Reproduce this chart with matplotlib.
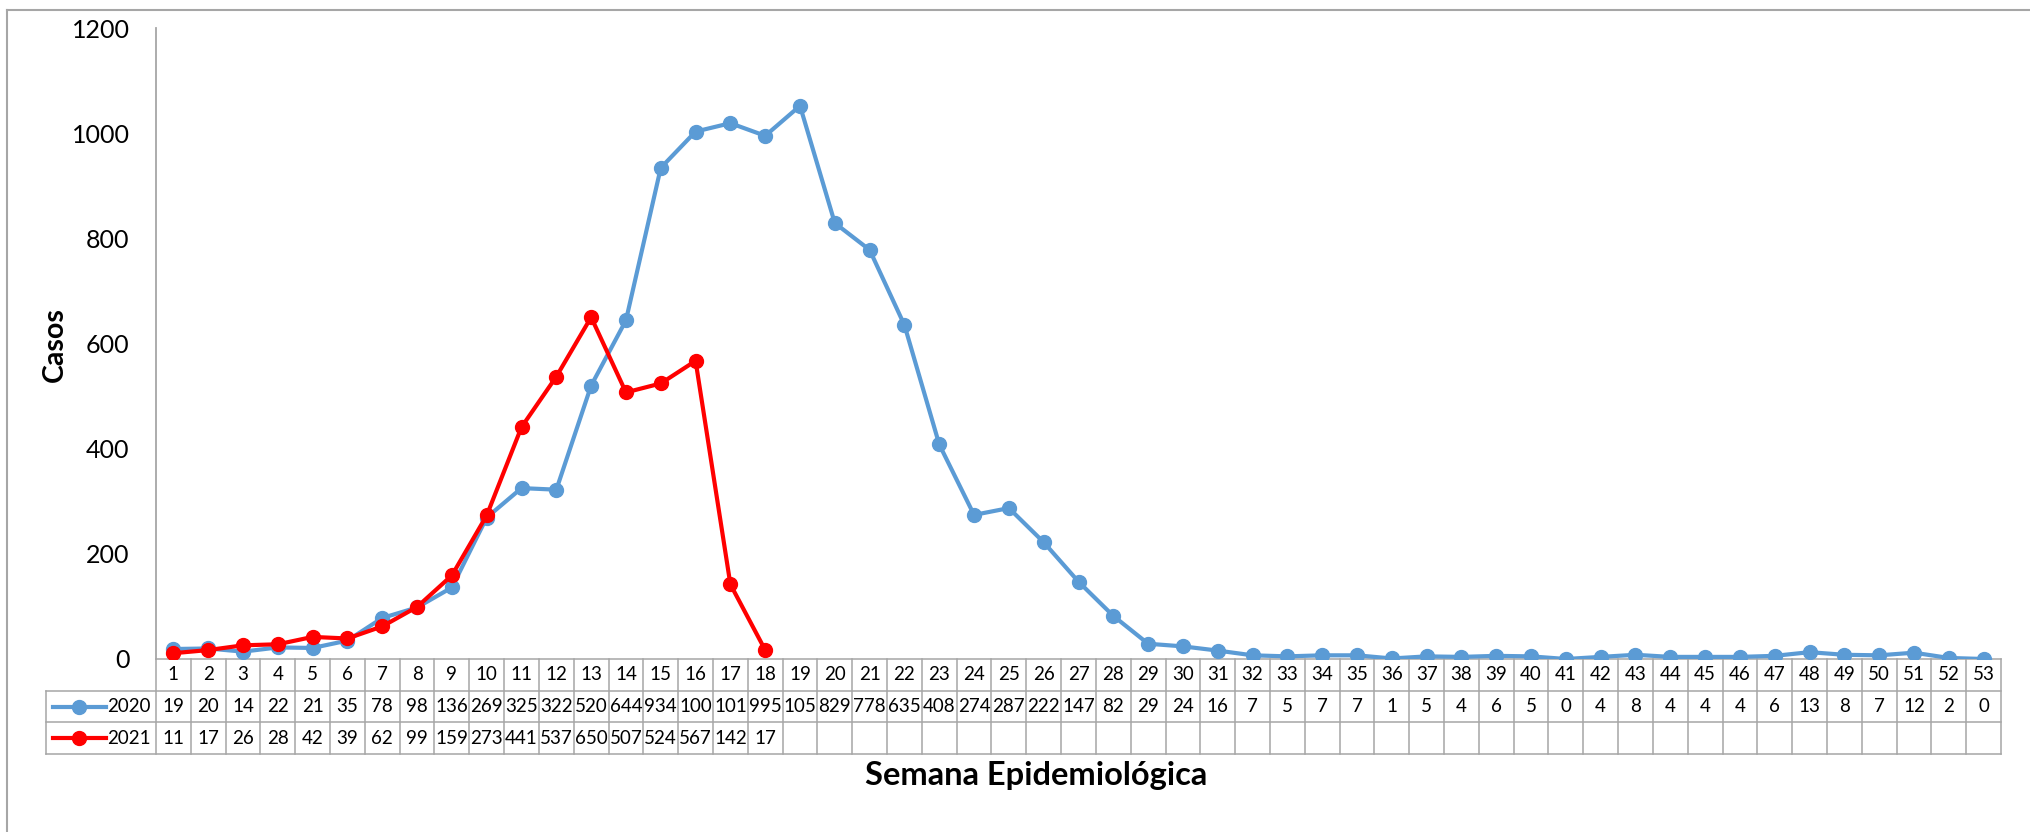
import matplotlib
matplotlib.use("Agg")
import matplotlib.pyplot as plt
from matplotlib.transforms import blended_transform_factory
from matplotlib.lines import Line2D

plt.rcParams['font.family'] = ['Lato', 'DejaVu Sans']

# ---------------- data ----------------
weeks = list(range(1, 54))
casos_2020 = [19, 20, 14, 22, 21, 35, 78, 98, 136, 269,
              325, 322, 520, 644, 934, 1003, 1019, 995, 1052, 829,
              778, 635, 408, 274, 287, 222, 147, 82, 29, 24,
              16, 7, 5, 7, 7, 1, 5, 4, 6, 5,
              0, 4, 8, 4, 4, 4, 6, 13, 8, 7,
              12, 2, 0]
casos_2021 = [11, 17, 26, 28, 42, 39, 62, 99, 159, 273,
              441, 537, 650, 507, 524, 567, 142, 17]
series_labels = ["2020", "2021"]
y_ticks = [0, 200, 400, 600, 800, 1000, 1200]
x_title = "Semana Epidemiológica"
y_title = "Casos"

# ---------------- style ----------------
W, H = 2031, 832
BLUE = "#5B9BD5"
RED = "#FF0000"
GRID = "#A6A6A6"
LW = 3.0
MS = 10

fig = plt.figure(figsize=(W / 100, H / 100), dpi=100)
ax_left, ax_right, ax_top, ax_bot = 156, 2001, 28, 659
ax = fig.add_axes([ax_left / W, 1 - ax_bot / H, (ax_right - ax_left) / W, (ax_bot - ax_top) / H])

ax.plot(weeks, casos_2020, color=BLUE, lw=LW, marker='o', ms=MS, zorder=3,
        solid_joinstyle='round')
ax.plot(weeks[:len(casos_2021)], casos_2021, color=RED, lw=LW, marker='o', ms=MS, zorder=4,
        solid_joinstyle='round')

ax.set_xlim(0.5, 53.5)
ax.set_ylim(0, 1200)
ax.set_yticks(y_ticks)
ax.set_yticklabels([str(v) for v in y_ticks], fontsize=18)
ax.set_xticks([])
ax.tick_params(axis='y', length=0, pad=19)
for s in ['top', 'right', 'bottom']:
    ax.spines[s].set_visible(False)
ax.spines['left'].set_color(GRID)
ax.spines['left'].set_linewidth(1.3)

# ---------------- data table ----------------
trans = blended_transform_factory(ax.transData, ax.transAxes)
ax_h_px = ax_bot - ax_top
rh = 31.67 / ax_h_px
col_px = (ax_right - ax_left) / 53.0


def px2x(px):
    return 0.5 + (px - ax_left) / col_px


x_tab_left = px2x(46)
lkw = dict(transform=trans, clip_on=False, color=GRID, lw=1.1, zorder=1)
ax.add_line(Line2D([0.5, 53.5], [0, 0], **lkw))
for k in (1, 2, 3):
    ax.add_line(Line2D([x_tab_left, 53.5], [-k * rh, -k * rh], **lkw))
for k in range(54):
    ax.add_line(Line2D([0.5 + k, 0.5 + k], [0, -3 * rh], **lkw))
ax.add_line(Line2D([x_tab_left, x_tab_left], [-rh, -3 * rh], **lkw))


def cell_text(v):
    s = str(v)
    return s[:3]


TFS = 13.5
tkw = dict(transform=trans, clip_on=False, ha='center', va='center', fontsize=TFS)
for w in weeks:
    ax.text(w, -0.5 * rh, str(w), **tkw)
for w, v in zip(weeks, casos_2020):
    ax.text(w, -1.5 * rh, cell_text(v), **tkw)
for w, v in zip(weeks, casos_2021):
    ax.text(w, -2.5 * rh, cell_text(v), **tkw)

# legend keys inside the table
for i, (lab, col) in enumerate(zip(series_labels, [BLUE, RED])):
    yy = -(1.5 + i) * rh
    ax.add_line(Line2D([px2x(53), px2x(106)], [yy, yy], transform=trans, clip_on=False,
                       color=col, lw=LW, zorder=5))
    ax.add_line(Line2D([px2x(79)], [yy], transform=trans, clip_on=False, color=col,
                       marker='o', ms=MS, zorder=5))
    ax.text(px2x(151), yy, lab, transform=trans, clip_on=False, ha='right', va='center',
            fontsize=TFS)

# ---------------- titles ----------------
fig.text(1036 / W, 1 - 776 / H, x_title, ha='center', va='center', fontsize=23.5, fontweight='bold')
fig.text(55 / W, 1 - 345 / H, y_title, ha='center', va='center', rotation=90, fontsize=20.5,
         fontweight='bold')

# ---------------- outer chart border ----------------
fig.add_artist(Line2D([7 / W, 1], [1 - 10 / H, 1 - 10 / H], transform=fig.transFigure,
                      color=GRID, lw=1.5))
fig.add_artist(Line2D([7 / W, 7 / W], [0, 1 - 10 / H], transform=fig.transFigure,
                      color=GRID, lw=1.5))

fig.savefig("out.png", dpi=100, facecolor='white')
